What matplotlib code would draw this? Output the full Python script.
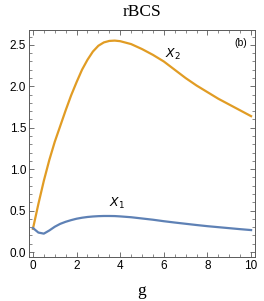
import numpy as np
import matplotlib

matplotlib.use("Agg")
import matplotlib.pyplot as plt  # noqa: E402
from matplotlib.ticker import MultipleLocator, FormatStrFormatter  # noqa: E402

# values
g = [0.0, 0.25, 0.5, 0.75, 1.0, 1.25, 1.5, 1.75, 2.0, 2.25, 2.5, 2.75, 3.0, 3.25,
     3.5, 3.75, 4.0, 4.5, 5.0, 5.5, 6.0, 6.5, 7.0, 7.5, 8.0, 8.5, 9.0, 9.5, 10.0]
x2 = [0.28, 0.58, 0.86, 1.11, 1.33, 1.52, 1.71, 1.89, 2.05, 2.20, 2.32, 2.42, 2.49, 2.53,
      2.548, 2.552, 2.545, 2.51, 2.45, 2.38, 2.30, 2.20, 2.10, 2.01, 1.93, 1.85, 1.78, 1.71, 1.64]
x1 = [0.29, 0.235, 0.222, 0.26, 0.305, 0.34, 0.365, 0.385, 0.402, 0.414, 0.423, 0.429, 0.433, 0.435,
      0.435, 0.434, 0.43, 0.42, 0.405, 0.39, 0.372, 0.356, 0.341, 0.326, 0.312, 0.30, 0.288, 0.276, 0.265]

plt.rcParams["font.family"] = ["Liberation Sans", "DejaVu Sans"]

fig = plt.figure(figsize=(2.64, 3.01), dpi=100)
ax = fig.add_axes([29 / 264, 1 - 257 / 301, 226 / 264, 227 / 301])

orange = "#E19C24"
blue = "#5E81B5"
ax.plot(g, x2, color=orange, lw=1.6)
ax.plot(g, x1, color=blue, lw=1.6)

ax.set_xlim(-0.18, 10.18)
ax.set_ylim(-0.06, 2.68)
ax.xaxis.set_major_locator(MultipleLocator(2))
ax.xaxis.set_minor_locator(MultipleLocator(0.5))
ax.yaxis.set_major_locator(MultipleLocator(0.5))
ax.yaxis.set_minor_locator(MultipleLocator(0.1))
ax.tick_params(which="both", direction="in", top=True, right=True, labelsize=8.5,
               color="0.35", pad=2)
ax.tick_params(which="major", length=3.5, width=0.6)
ax.tick_params(which="minor", length=2, width=0.5)
ax.xaxis.set_major_formatter(FormatStrFormatter("%d"))
ax.yaxis.set_major_formatter(FormatStrFormatter("%.1f"))
for s in ax.spines.values():
    s.set_color("0.35")
    s.set_linewidth(0.7)

ax.text(6.4, 2.38, "$X_2$", fontsize=9, ha="center", va="center")
ax.text(3.85, 0.59, "$X_1$", fontsize=9, ha="center", va="center")
ax.text(9.8, 2.52, "(b)", fontsize=7.5, ha="right", va="center")

fig.text(142 / 264, 1 - 12 / 301, "rBCS", family="Liberation Serif", fontsize=12.5,
         ha="center", va="center")
fig.text(142 / 264, 1 - 291 / 301, "g", family="Liberation Serif", fontsize=12.5,
         ha="center", va="center")

fig.savefig("out.png", dpi=100)
